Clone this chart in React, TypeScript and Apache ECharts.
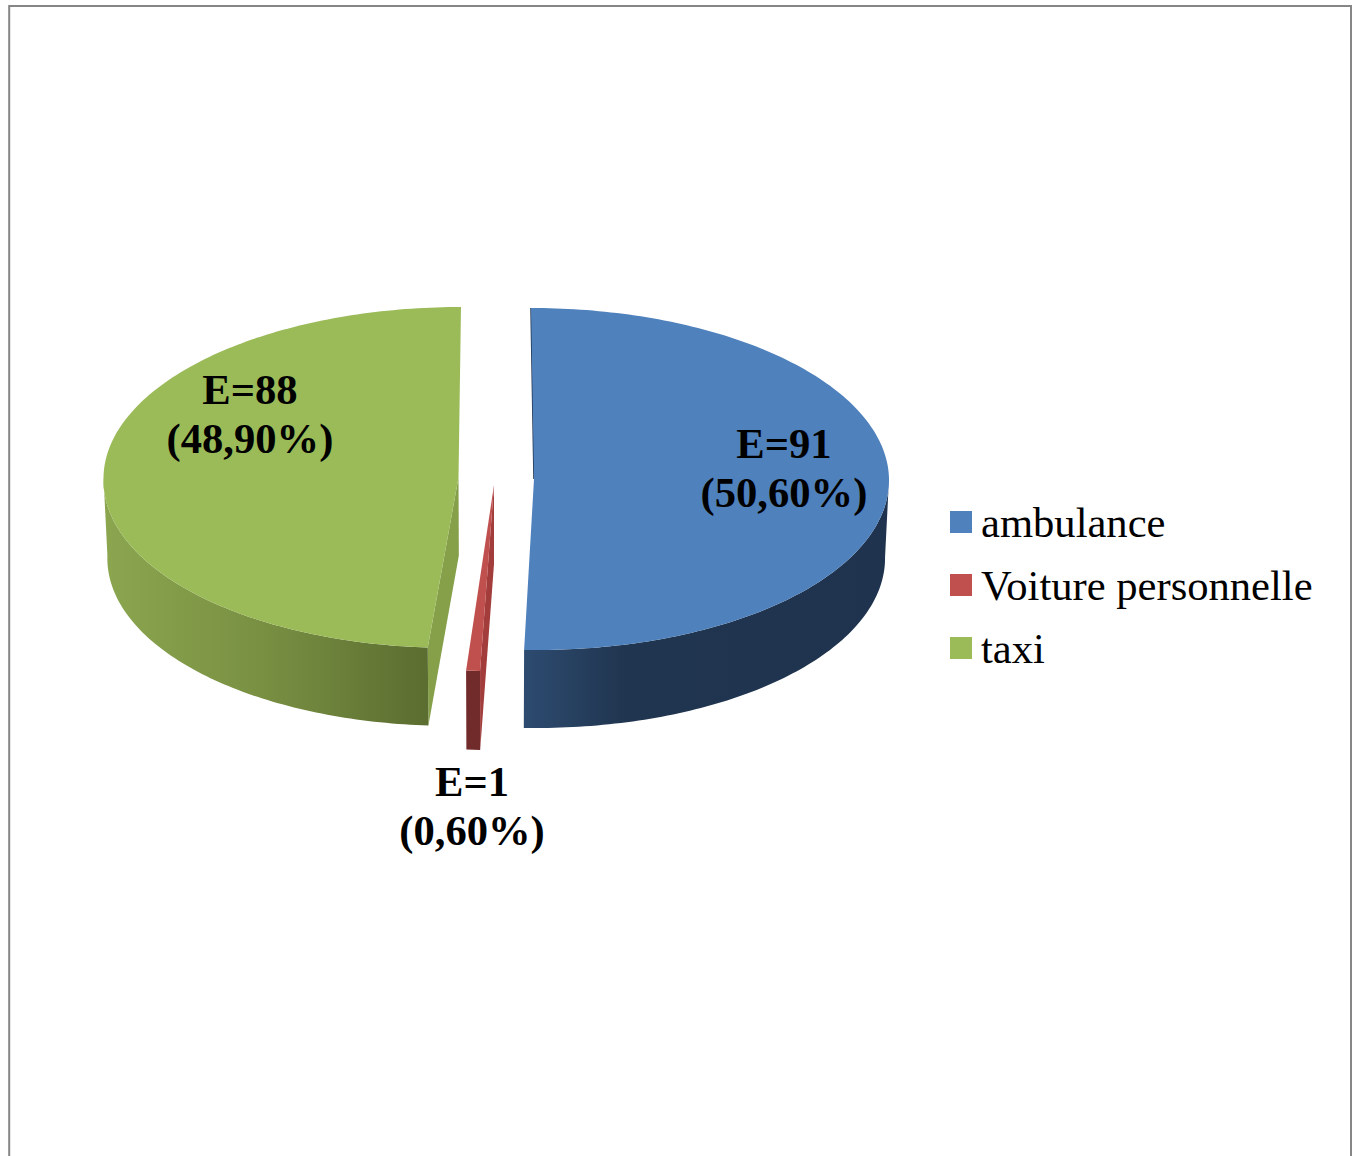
import React, { useEffect, useRef } from "react";
import * as echarts from "echarts";

const categories = ["ambulance", "Voiture personnelle", "taxi"];
const counts = [91, 1, 88];
const percentLabels = ["50,60%", "0,60%", "48,90%"];
const topColors = ["#4F81BD", "#C0504D", "#9BBB59"];

const FONT = '"Liberation Serif"';
const VANISH_X = 494;
const BOTTOM_SCALE = 0.99;
const sliceLayout = [
  { cx: 534, cy: 479, rx: 355, ry: 171, depth: 78, rear: -3, front: 2.5, labelX: 784, labelY: 468 },
  { cx: 494, cy: 485, rx: 400, ry: 186, depth: 79, rear: 0, front: 0, labelX: 472, labelY: 806 },
  { cx: 458.5, cy: 477.5, rx: 355, ry: 170.5, depth: 78, rear: 2.5, front: -6, labelX: 250, labelY: 414 },
];
const outerWallFills = [
  [[0, "#2D4B70"], [0.28, "#20354F"], [1, "#1F334E"]],
  [[0, "#722B2B"], [1, "#722B2B"]],
  [[0, "#8BA64F"], [0.5, "#788F42"], [1, "#5B6D30"]],
];
const innerWallFills = ["#1F334E", "#A23D3C", "#86A04A"];

const total = counts.reduce((a, b) => a + b, 0);

function pt(i: number, deg: number, bottom: boolean, radial = 1): number[] {
  const l = sliceLayout[i];
  const t = (deg * Math.PI) / 180;
  const c = Math.cos(t);
  const shift = radial * (c > 0 ? c * l.rear : -c * l.front);
  let x = l.cx + l.rx * radial * Math.sin(t) + shift;
  let y = l.cy - l.ry * radial * c;
  if (bottom) {
    x = VANISH_X + (x - VANISH_X) * BOTTOM_SCALE;
    y += l.depth;
  }
  return [x, y];
}

function arc(i: number, a: number, b: number, bottom: boolean): number[][] {
  const pts: number[][] = [];
  const n = Math.max(2, Math.ceil(Math.abs(b - a)));
  for (let k = 0; k <= n; k++) pts.push(pt(i, a + ((b - a) * k) / n, bottom));
  return pts;
}

function renderSlice(params: any, api: any) {
  const i = params.seriesIndex;
  const value = api.value(0);
  let before = 0;
  for (let k = 0; k < i; k++) before += counts[k];
  const a = (before / total) * 360;
  const b = ((before + value) / total) * 360;
  const children: any[] = [];
  const apexTop = pt(i, a, false, 0);
  const apexBottom = pt(i, a, true, 0);

  // inner wall
  if (i === 0) {
    children.push({
      type: "polyline",
      shape: { points: [pt(i, a, false), apexTop] },
      style: { stroke: innerWallFills[i], lineWidth: 1.5, fill: "none" },
    });
  } else {
    children.push({
      type: "polygon",
      shape: { points: [apexTop, pt(i, a, false), pt(i, a, true), apexBottom] },
      style: { fill: innerWallFills[i] },
    });
  }

  // outer wall (front half only)
  const wa = Math.max(a, 90);
  const wb = Math.min(b, 270);
  if (wb > wa) {
    children.push({
      type: "polygon",
      shape: { points: [...arc(i, wa, wb, false), ...arc(i, wb, wa, true)] },
      style: {
        fill: {
          type: "linear",
          x: 0,
          y: 0,
          x2: 1,
          y2: 0,
          colorStops: outerWallFills[i].map(([offset, color]) => ({ offset, color })),
        },
      },
    });
  }

  // top face
  children.push({
    type: "polygon",
    shape: { points: [apexTop, ...arc(i, a, b, false)] },
    style: { fill: topColors[i] },
  });

  // label
  children.push({
    type: "text",
    x: sliceLayout[i].labelX,
    y: sliceLayout[i].labelY,
    style: {
      text: `E=${value}\n(${percentLabels[i]})`,
      font: `bold 42.6px ${FONT}`,
      lineHeight: 49,
      fill: "#000000",
      align: "center",
      verticalAlign: "middle",
    },
  });

  return { type: "group", children };
}

export default function App() {
  const ref = useRef<HTMLDivElement>(null);
  useEffect(() => {
    const chart = echarts.init(ref.current!, null, { renderer: "svg" });
    chart.setOption({
      animation: false,
      backgroundColor: "#ffffff",
      color: topColors,
      legend: {
        orient: "vertical",
        left: 950,
        top: 500,
        padding: 0,
        data: categories,
        icon: "rect",
        itemWidth: 22,
        itemHeight: 22,
        itemGap: 19,
        selectedMode: false,
        textStyle: {
          fontFamily: FONT,
          fontSize: 42.6,
          lineHeight: 42,
          color: "#000000",
          padding: [2, 0, 0, 4],
        },
      },
      graphic: [
        {
          type: "rect",
          shape: { x: 9.2, y: 6, width: 1341.8, height: 1300 },
          style: { fill: "none", stroke: "#868686", lineWidth: 2 },
          silent: true,
        },
      ],
      series: categories.map((name, i) => ({
        type: "custom",
        name,
        coordinateSystem: "none",
        renderItem: renderSlice,
        data: [[counts[i]]],
        itemStyle: { color: topColors[i] },
        silent: true,
      })),
    });
    return () => chart.dispose();
  }, []);
  return (
    <div
      ref={ref}
      style={{ position: "fixed", left: 0, top: 0, width: 1357, height: 1156 }}
    />
  );
}
